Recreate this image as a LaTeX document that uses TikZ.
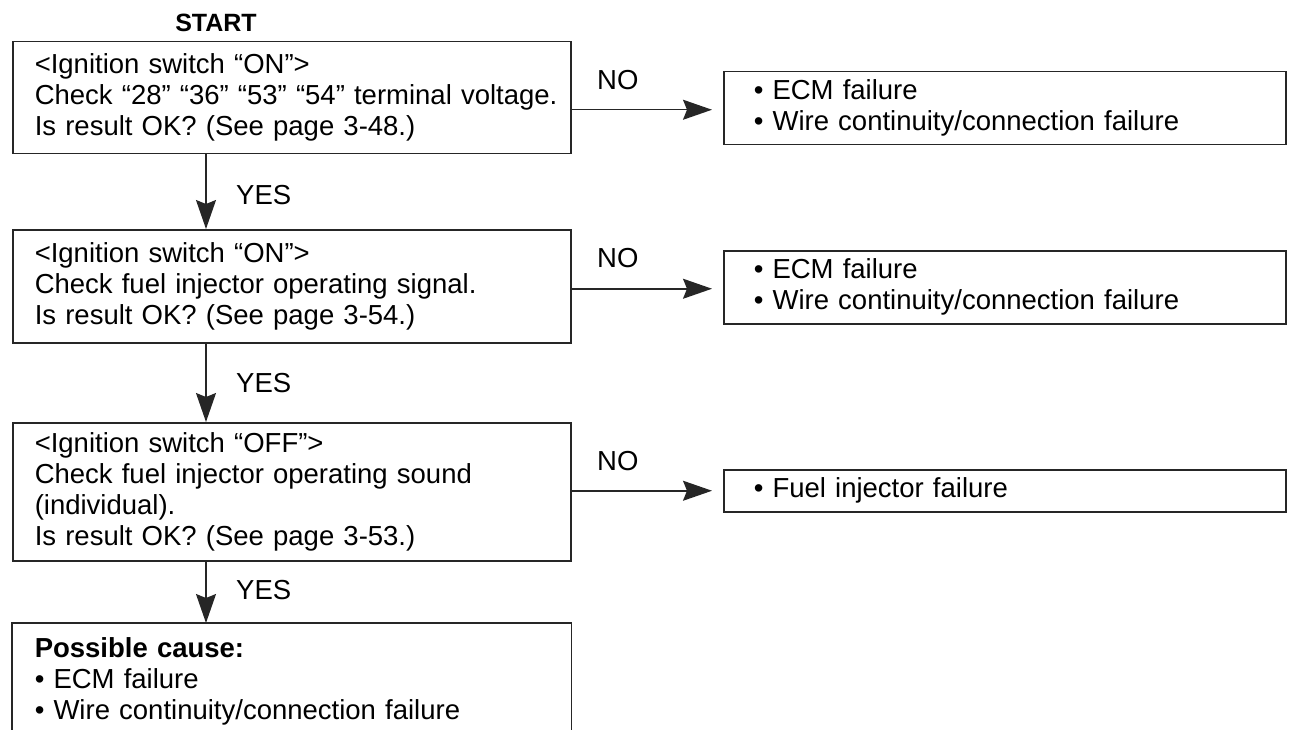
\documentclass[tikz,border=0pt]{standalone}
\usepackage{fontspec}
\setmainfont{Liberation Sans}
\usetikzlibrary{arrows.meta}
\begin{document}
\begin{tikzpicture}[x=1pt,y=-1pt,
  txt/.style={font=\fontsize{27.5}{31}\selectfont},
  mainbox/.style={txt, draw=black!85, line width=1.5pt, anchor=north west,
    inner xsep=22pt, inner ysep=0pt, text width=514pt, align=left},
  rbox/.style={txt, draw=black!85, line width=1.5pt, anchor=north west,
    inner xsep=30pt, inner ysep=0pt, text width=502pt, align=left},
  lbl/.style={txt, anchor=west, inner sep=0pt},
  arr/.style={draw=black!85, line width=1.5pt, -{Stealth[length=29pt, width=20pt, inset=4pt]}},
  edge/.style={draw=black!85, line width=1.5pt}
]
\useasboundingbox (0,0) rectangle (1289,730);

\node[font=\bfseries\fontsize{25}{29}\selectfont] (start) at (216,23) {START};

\node[mainbox, minimum height=112pt] (b1) at (12,41)
  {<Ignition switch “ON”>\\\mbox{Check “28” “36” “53” “54” terminal voltage.}\\Is result OK? (See page 3-48.)};
\node[mainbox, minimum height=113pt] (b2) at (12,229)
  {<Ignition switch “ON”>\\Check fuel injector operating signal.\\Is result OK? (See page 3-54.)};
\node[mainbox, minimum height=138pt] (b3) at (12,422)
  {<Ignition switch “OFF”>\\Check fuel injector operating sound\\(individual).\\Is result OK? (See page 3-53.)};
\node[mainbox, draw=none, inner ysep=14pt] (b4) at (12,623)
  {\textbf{Possible cause:}\\• ECM failure\\• Wire continuity/connection failure};
\coordinate (b4end) at (12,730);

\node[rbox, minimum height=73pt] (r1) at (723,71)
  {• ECM failure\\• Wire continuity/connection failure};
\node[rbox, minimum height=73pt] (r2) at (723,250)
  {• ECM failure\\• Wire continuity/connection failure};
\node[rbox, minimum height=42pt] (r3) at (723,469)
  {• Fuel injector failure};

\node[lbl] (n1) at (597,80) {NO};
\node[lbl] (n2) at (597,258) {NO};
\node[lbl] (n3) at (597,461) {NO};
\node[lbl] (y1) at (236,195) {YES};
\node[lbl] (y2) at (236,383) {YES};
\node[lbl] (y3) at (236,590) {YES};

\draw[arr, shorten >=11pt] ([yshift=-1.5pt]r1.west -| b1.east) -- ([yshift=-1.5pt]r1.west);
\draw[arr, shorten >=11pt] ([yshift=-1.5pt]r2.west -| b2.east) -- ([yshift=-1.5pt]r2.west);
\draw[arr, shorten >=11pt] (r3.west -| b3.east) -- (r3.west);

\draw[arr] ([xshift=194pt]b1.south west) -- ([xshift=194pt]b2.north west);
\draw[arr] ([xshift=194pt]b2.south west) -- ([xshift=194pt]b3.north west);
\draw[arr] ([xshift=194pt]b3.south west) -- ([xshift=194pt]b4.north west);

\draw[edge] (b4.north west |- b4end) -- (b4.north west) -- (b4.north east) -- (b4.north east |- b4end);
\end{tikzpicture}
\end{document}
